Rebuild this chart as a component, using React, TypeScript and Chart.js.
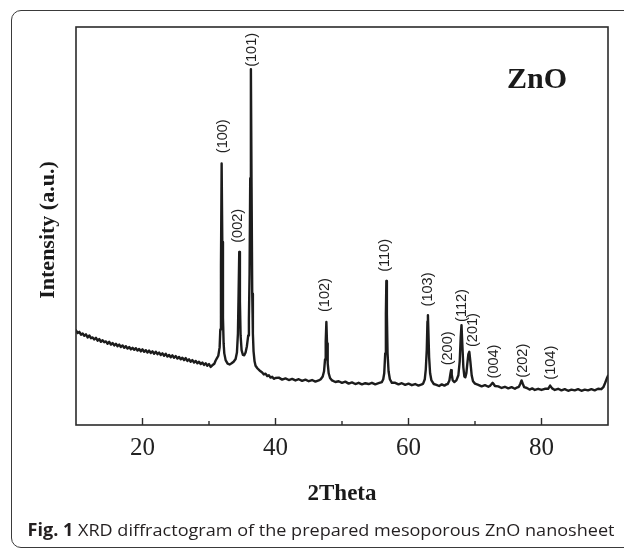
import { useEffect, useRef } from 'react';
import { Chart, registerables } from 'chart.js';

Chart.register(...registerables);

// ---- data: [2theta, intensity (a.u.)] ----
const scanLowAngle: [number, number][] = [
  [10.0, 23.8], [10.25, 23.1], [10.5, 23.4], [10.75, 22.7], [11.0, 23.0], [11.25, 22.4],
  [11.5, 22.8], [11.75, 22.0], [12.0, 22.5], [12.25, 21.8], [12.5, 22.0], [12.75, 21.5],
  [13.0, 21.9], [13.25, 21.2], [13.5, 21.6], [13.75, 20.9], [14.0, 21.3], [14.25, 20.8],
  [14.5, 21.0], [14.75, 20.4], [15.0, 20.9], [15.25, 20.2], [15.5, 20.6], [15.75, 20.0],
  [16.0, 20.4], [16.25, 19.8], [16.5, 20.2], [16.75, 19.6], [17.0, 20.0], [17.25, 19.4],
  [17.5, 19.8], [17.75, 19.2], [18.0, 19.6], [18.25, 19.0], [18.5, 19.4], [18.75, 18.9],
  [19.0, 19.3], [19.25, 18.7], [19.5, 19.1], [19.75, 18.5], [20.0, 19.0], [20.25, 18.4],
  [20.5, 18.8], [20.75, 18.2], [21.0, 18.7], [21.25, 18.1], [21.5, 18.5], [21.75, 17.9],
  [22.0, 18.4], [22.25, 17.8], [22.5, 18.2], [22.75, 17.6], [23.0, 18.0], [23.25, 17.4],
  [23.5, 17.9], [23.75, 17.2], [24.0, 17.6], [24.25, 17.0], [24.5, 17.5], [24.75, 16.9],
  [25.0, 17.3], [25.25, 16.7], [25.5, 17.1], [25.75, 16.5], [26.0, 16.9], [26.25, 16.3],
  [26.5, 16.8], [26.75, 16.1], [27.0, 16.5], [27.25, 15.9], [27.5, 16.3], [27.75, 15.7],
  [28.0, 16.1], [28.25, 15.5], [28.5, 15.9], [28.75, 15.3], [29.0, 15.7], [29.25, 15.1],
  [29.5, 15.5], [29.75, 14.9], [30.0, 15.3], [30.25, 14.6], [30.5, 15.0],
];

const scanMainPeaks: [number, number][] = [
  [30.8, 15.4], [31.0, 16.2], [31.2, 16.8], [31.4, 17.4], [31.6, 19.5], [31.7, 24.0],
  [31.8, 40.0], [31.9, 65.7], [32.0, 46.0], [32.1, 27.0], [32.2, 20.5], [32.3, 18.0],
  [32.5, 16.3], [32.8, 15.4], [33.1, 15.2], [33.4, 15.5], [33.7, 15.9], [34.0, 16.6],
  [34.2, 18.2], [34.35, 23.0], [34.45, 33.0], [34.55, 43.5], [34.65, 31.0], [34.75, 22.5],
  [34.9, 18.8], [35.1, 17.6], [35.3, 17.5], [35.5, 18.2], [35.7, 19.8], [35.9, 22.5],
  [36.0, 26.5], [36.1, 38.0], [36.2, 62.0], [36.3, 89.4], [36.4, 60.0], [36.5, 33.0],
  [36.6, 23.0], [36.7, 18.5], [36.85, 16.0], [37.0, 14.9], [37.3, 14.2], [37.6, 13.7],
  [38.0, 13.2], [38.25, 12.7], [38.5, 12.9], [38.75, 12.3], [39.0, 12.5], [39.25, 11.9], [39.5, 12.1], [39.75, 11.6],
];

const scanMidAngle: [number, number][] = [
  [40.0, 11.8], [40.5, 11.9], [41.0, 11.4], [41.5, 11.7], [42.0, 11.3], [42.5, 11.6],
  [43.0, 11.2], [43.5, 11.5], [44.0, 11.1], [44.5, 11.4], [45.0, 11.0], [45.5, 11.3],
  [46.0, 10.9], [46.5, 11.2], [46.8, 11.5], [47.1, 12.2], [47.3, 13.5], [47.45, 16.5],
  [47.55, 21.0], [47.65, 25.9], [47.75, 20.5], [47.85, 15.5], [48.0, 13.0], [48.2, 11.8],
  [48.5, 11.2], [49.0, 10.8], [49.5, 11.0], [50.0, 10.6], [50.5, 10.9], [51.0, 10.4],
  [51.5, 10.7], [52.0, 10.3], [52.5, 10.6], [53.0, 10.2], [53.5, 10.5], [54.0, 10.3],
  [54.5, 10.6], [55.0, 10.2], [55.5, 10.5], [56.0, 10.8], [56.2, 11.5], [56.35, 13.0],
  [56.5, 18.0], [56.6, 28.0], [56.67, 36.2], [56.75, 28.0], [56.85, 18.0], [57.0, 13.5],
  [57.2, 11.5], [57.5, 10.6], [58.0, 10.6], [58.5, 10.2], [59.0, 10.5], [59.5, 10.1],
  [60.0, 10.4], [60.5, 10.0], [61.0, 10.3], [61.5, 9.9], [62.0, 10.2],
];

const scanHighAngle: [number, number][] = [
  [62.2, 10.4], [62.45, 11.5], [62.6, 14.0], [62.75, 19.0], [62.85, 26.0], [62.92, 27.6],
  [63.0, 23.0], [63.1, 17.0], [63.25, 13.0], [63.45, 11.2], [63.8, 10.3], [64.2, 10.1],
  [64.6, 9.8], [65.0, 10.2], [65.4, 9.9], [65.7, 10.2], [65.9, 10.3], [66.15, 11.2],
  [66.3, 12.8], [66.4, 13.8], [66.5, 12.7], [66.65, 11.2], [66.9, 10.8], [67.2, 11.2],
  [67.5, 12.5], [67.7, 16.0], [67.85, 22.0], [67.97, 25.1], [68.1, 20.0], [68.25, 14.5],
  [68.4, 12.2], [68.55, 12.0], [68.7, 13.0], [68.85, 15.5], [69.0, 17.8], [69.15, 18.4],
  [69.3, 16.0], [69.5, 12.5], [69.7, 11.0], [70.0, 10.4], [70.5, 10.1], [71.0, 9.7],
  [71.5, 10.0], [72.0, 9.6], [72.3, 9.9], [72.5, 10.3], [72.65, 10.6], [72.8, 10.3],
  [73.0, 9.8], [73.5, 9.7], [74.0, 9.3], [74.5, 9.6], [75.0, 9.2], [75.5, 9.5],
];

const scanTail: [number, number][] = [
  [76.0, 9.1], [76.3, 9.4], [76.6, 9.6], [76.8, 10.3], [77.0, 11.2], [77.2, 10.3],
  [77.4, 9.5], [77.8, 9.3], [78.2, 8.9], [78.6, 9.2], [79.0, 8.8], [79.5, 9.1],
  [80.0, 8.8], [80.5, 9.1], [81.0, 9.1], [81.3, 9.9], [81.6, 9.2], [82.0, 8.8],
  [82.5, 9.1], [83.0, 8.7], [83.5, 9.0], [84.0, 8.6], [84.5, 8.9], [85.0, 8.7],
  [85.5, 9.0], [86.0, 8.6], [86.5, 8.9], [87.0, 8.7], [87.5, 9.0], [88.0, 8.7],
  [88.5, 9.1], [89.0, 9.0], [89.3, 9.5], [89.55, 10.5], [89.8, 11.6], [90.0, 12.4],
];

// ---- peak labels ----
const peakLabels = ['(100)', '(002)', '(101)', '(102)', '(110)', '(103)', '(200)', '(112)', '(201)', '(004)', '(202)', '(104)'];
const labelTheta = [32.15, 34.3, 36.53, 47.4, 56.4, 62.9, 66.0, 68.0, 69.65, 72.9, 77.15, 81.4];
const labelIntensity = [68.3, 45.8, 90.0, 28.4, 38.5, 29.8, 15.0, 25.9, 19.6, 11.7, 11.9, 11.4];

// ---- axes ----
const xMin = 10;
const xMax = 90;
const xTickValues = [20, 40, 60, 80];
const xMinorTickValues = [30, 50, 70];
const yMin = 0;
const yMax = 100;

const xTitle = '2Theta';
const yTitle = 'Intensity (a.u.)';
const sampleName = 'ZnO';
const captionBold = 'Fig. 1';
const captionText = 'XRD diffractogram of the prepared mesoporous ZnO nanosheet';

const SERIF = "'Liberation Serif', 'Times New Roman', serif";
const SANS = "'Liberation Sans', Arial, sans-serif";
const CAPTION_FONT = "'Open Sans', 'Noto Sans', sans-serif";

const decorPlugin = {
  id: 'decor',
  afterDatasetsDraw(chart: any) {
    const { ctx, chartArea, scales } = chart;
    const { left, right, top, bottom } = chartArea;
    const x = scales.x;
    const y = scales.y;
    ctx.save();
    // frame
    ctx.strokeStyle = '#2b2b2b';
    ctx.lineWidth = 1.6;
    ctx.strokeRect(left, top, right - left, bottom - top);
    // inward ticks
    ctx.lineWidth = 1.4;
    xTickValues.forEach((v) => {
      const px = x.getPixelForValue(v);
      ctx.beginPath();
      ctx.moveTo(px, bottom);
      ctx.lineTo(px, bottom - 7);
      ctx.stroke();
    });
    xMinorTickValues.forEach((v) => {
      const px = x.getPixelForValue(v);
      ctx.beginPath();
      ctx.moveTo(px, bottom);
      ctx.lineTo(px, bottom - 4);
      ctx.stroke();
    });
    // peak labels
    ctx.fillStyle = '#222';
    ctx.font = `14.5px ${SANS}`;
    ctx.textAlign = 'left';
    ctx.textBaseline = 'middle';
    peakLabels.forEach((lab, i) => {
      const px = x.getPixelForValue(labelTheta[i]);
      const py = y.getPixelForValue(labelIntensity[i]);
      ctx.save();
      ctx.translate(px, py);
      ctx.rotate(-Math.PI / 2);
      ctx.fillText(lab, 0, 0);
      ctx.restore();
    });
    // sample name
    ctx.fillStyle = '#1a1a1a';
    ctx.font = `bold 30px ${SERIF}`;
    ctx.textAlign = 'center';
    ctx.textBaseline = 'alphabetic';
    ctx.fillText(sampleName, 537, 87.5);
    // x title
    ctx.font = `bold 23px ${SERIF}`;
    ctx.fillText(xTitle, (left + right) / 2, 499.5);
    // y title
    ctx.save();
    ctx.translate(53.5, 230);
    ctx.rotate(-Math.PI / 2);
    ctx.font = `bold 22px ${SERIF}`;
    ctx.textAlign = 'center';
    ctx.fillText(yTitle, 0, 0);
    ctx.restore();
    // caption (fitted to the reference width)
    ctx.fillStyle = '#231f20';
    ctx.textAlign = 'left';
    ctx.font = `bold 17px ${CAPTION_FONT}`;
    const wb = ctx.measureText(captionBold + ' ').width;
    ctx.font = `17px ${CAPTION_FONT}`;
    const wt = ctx.measureText(captionText).width;
    const sx = 587 / (wb + wt);
    ctx.save();
    ctx.translate(27.5, 535.5);
    ctx.scale(sx, 1);
    ctx.font = `bold 17px ${CAPTION_FONT}`;
    ctx.fillText(captionBold, 0, 0);
    ctx.font = `17px ${CAPTION_FONT}`;
    ctx.fillText(captionText, wb, 0);
    ctx.restore();
    ctx.restore();
  },
};

export default function App() {
  const canvasRef = useRef<HTMLCanvasElement | null>(null);

  useEffect(() => {
    const canvas = canvasRef.current;
    if (!canvas) return;
    const points = [...scanLowAngle, ...scanMainPeaks, ...scanMidAngle, ...scanHighAngle, ...scanTail].map(
      ([a, b]) => ({ x: a, y: b })
    );
    const chart = new Chart(canvas, {
      type: 'line',
      data: {
        datasets: [
          {
            data: points,
            borderColor: '#1c1c1c',
            borderWidth: 2.4,
            borderJoinStyle: 'round',
            borderCapStyle: 'round',
            pointRadius: 0,
            tension: 0,
            fill: false,
          },
        ],
      },
      options: {
        responsive: false,
        animation: false,
        devicePixelRatio: 1,
        layout: { padding: { top: 27, right: 16, left: 0, bottom: 0 } },
        plugins: { legend: { display: false }, tooltip: { enabled: false }, title: { display: false } },
        scales: {
          x: {
            type: 'linear',
            min: xMin,
            max: xMax,
            grid: { display: false, drawTicks: false },
            border: { display: false },
            afterBuildTicks: (s: any) => {
              s.ticks = xTickValues.map((v) => ({ value: v }));
            },
            afterFit: (s: any) => {
              s.height = 123;
            },
            ticks: {
              padding: 8,
              maxRotation: 0,
              autoSkip: false,
              color: '#222',
              font: { family: SERIF, size: 25 },
            },
          },
          y: {
            min: yMin,
            max: yMax,
            grid: { display: false, drawTicks: false },
            border: { display: false },
            ticks: { display: false },
            afterFit: (s: any) => {
              s.width = 76;
            },
          },
        },
      },
      plugins: [decorPlugin],
    });
    return () => chart.destroy();
  }, []);

  return (
    <div style={{ position: 'fixed', left: 0, top: 0, width: 624, height: 548, overflow: 'hidden', background: '#fff' }}>
      <canvas ref={canvasRef} width={624} height={548} style={{ position: 'absolute', left: 0, top: 0, width: 624, height: 548 }} />
      <div
        style={{
          position: 'absolute',
          left: 11,
          top: 10,
          width: 700,
          height: 538,
          boxSizing: 'border-box',
          border: '1.5px solid #3a3a3a',
          borderRadius: 10,
          pointerEvents: 'none',
        }}
      />
    </div>
  );
}
